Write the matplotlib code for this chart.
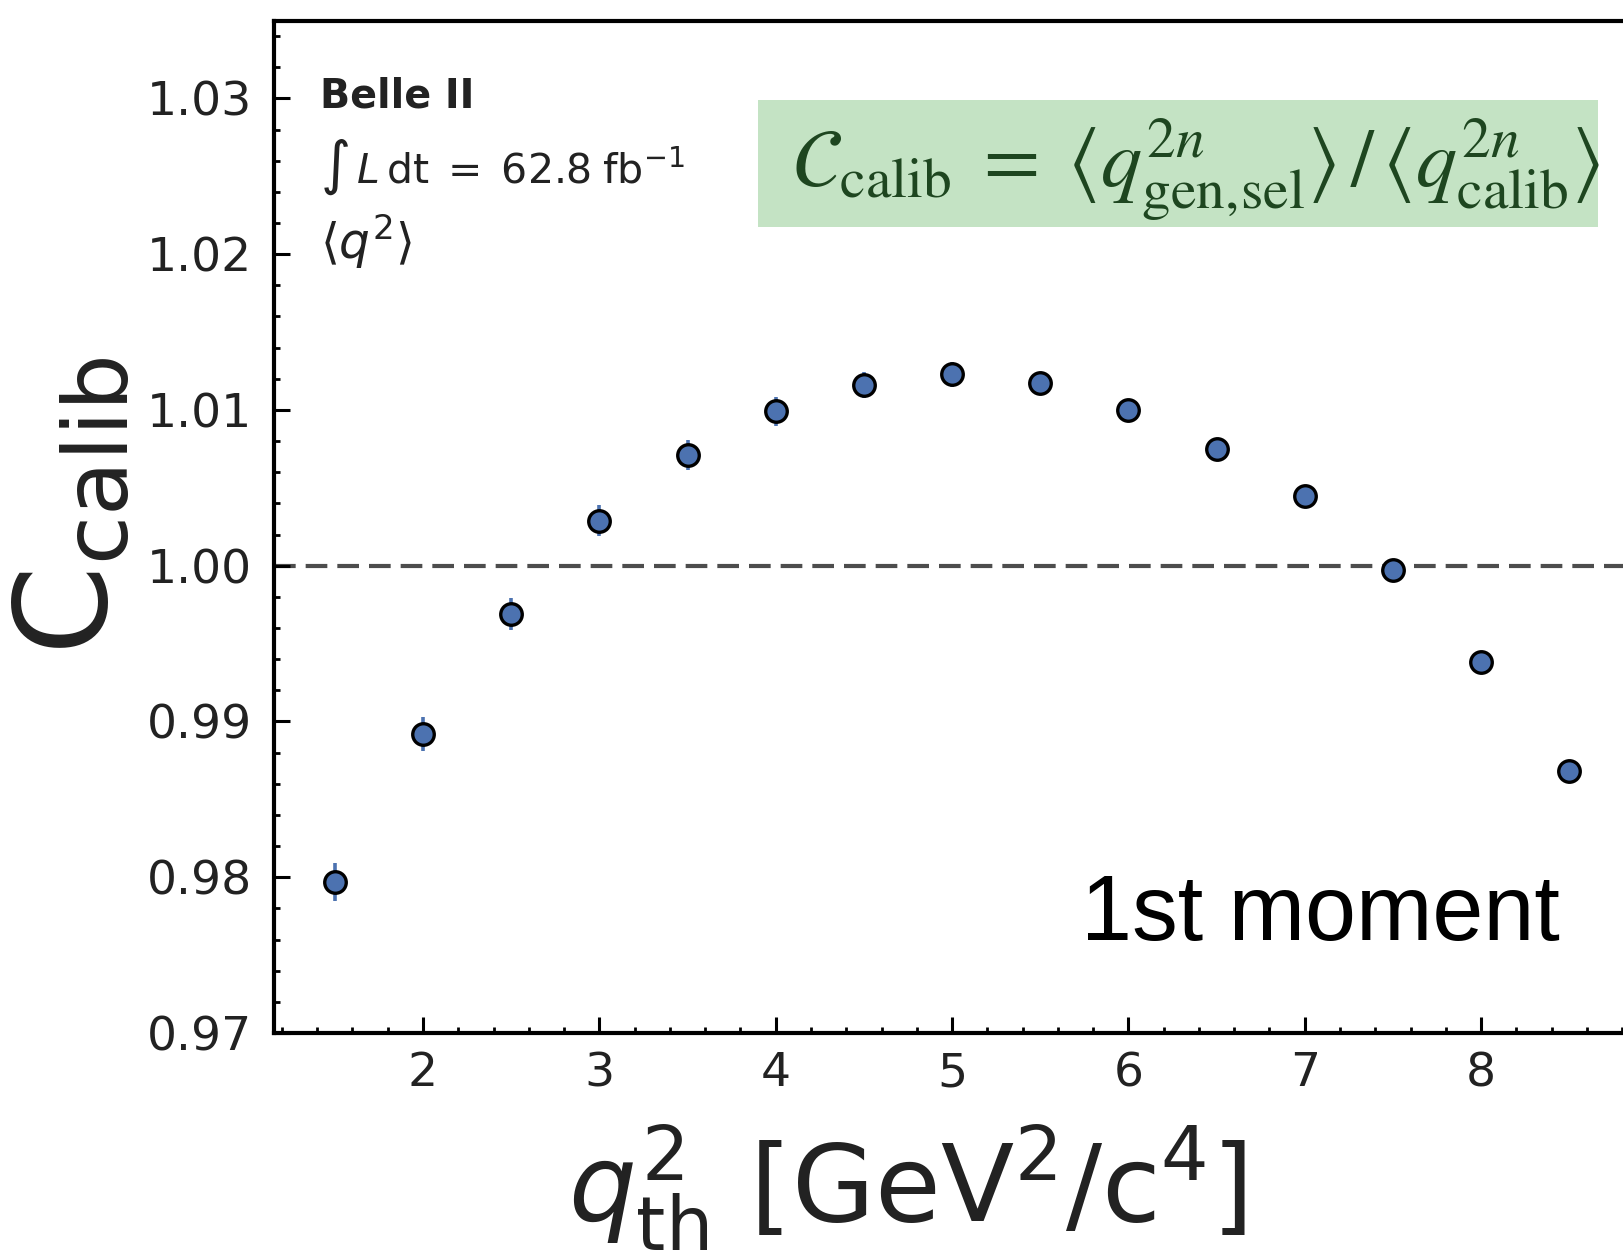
import matplotlib
matplotlib.use("Agg")
import matplotlib.pyplot as plt
from matplotlib.ticker import MultipleLocator, FixedLocator
from matplotlib.patches import Rectangle

# ---- data ----
q2_th = [1.5, 2.0, 2.5, 3.0, 3.5, 4.0, 4.5, 5.0, 5.5, 6.0, 6.5, 7.0, 7.5, 8.0, 8.5]
c_calib = [0.9797, 0.9892, 0.9969, 1.0029, 1.0071, 1.0099, 1.0116, 1.0123,
           1.0117, 1.0100, 1.0075, 1.0045, 0.9997, 0.9938, 0.9868]
c_err = [0.0012, 0.0011, 0.00105, 0.0010, 0.00095, 0.00092, 0.00085, 0.0008,
         0.00075, 0.0007, 0.00065, 0.0006, 0.0006, 0.0006, 0.0006]
x_ticks = [2, 3, 4, 5, 6, 7, 8]
y_ticks = [0.97, 0.98, 0.99, 1.00, 1.01, 1.02, 1.03]
y_ticklabels = ["0.97", "0.98", "0.99", "1.00", "1.01", "1.02", "1.03"]
ref_line = 1.0

W, H = 1623, 1254
fig = plt.figure(figsize=(W / 100, H / 100), dpi=100)
fig.patch.set_facecolor("white")
ax = fig.add_axes([274 / W, 1 - 1033 / H, (1631 - 274) / W, (1033 - 20.5) / H])

blue = "#4c72b0"
ax.errorbar(q2_th, c_calib, yerr=c_err, fmt="none", ecolor=blue, elinewidth=2.6,
            capsize=0, zorder=2)
ax.plot(q2_th, c_calib, linestyle="none", marker="o", markersize=15.5,
        markerfacecolor=blue, markeredgecolor="black", markeredgewidth=2.4, zorder=3)
ax.axhline(ref_line, color="#4d4d4d", linewidth=3.0, dashes=(5.2, 2.4), zorder=1)

ax.set_xlim(1.155, 8.85)
ax.set_ylim(0.97, 1.035)
ax.xaxis.set_major_locator(FixedLocator(x_ticks))
ax.xaxis.set_minor_locator(MultipleLocator(0.2))
ax.yaxis.set_major_locator(FixedLocator(y_ticks))
ax.set_yticklabels(y_ticklabels)
ax.yaxis.set_minor_locator(MultipleLocator(0.002))

for s in ax.spines.values():
    s.set_linewidth(3.0)
    s.set_color("black")

ax.tick_params(which="major", direction="in", length=11.5, width=2.2,
               labelsize=34, labelcolor="#222222", top=False, right=False)
ax.tick_params(which="minor", direction="in", length=4.5, width=2.0,
               top=False, right=False)
ax.tick_params(axis="y", which="major", pad=16)
ax.tick_params(axis="x", which="major", pad=13)

ax.set_ylabel(r"C$_\mathrm{calib}$", fontsize=92, color="#222222")
ax.yaxis.set_label_coords(-0.103, 0.52)
ax.set_xlabel(r"$q^2_\mathrm{th}$ [GeV$^2$/c$^4$]", fontsize=77, color="#222222")
ax.xaxis.set_label_coords(0.4665, -0.088)

# Belle II annotation
fig.text(320 / W, 1 - 107 / H, "Belle II", fontsize=28.5, fontweight="bold",
         color="#222222", va="baseline", ha="left")
fig.text(320 / W, 1 - 183 / H, r"$\int\,L\,\mathrm{dt}\;=\;62.8\;\mathrm{fb}^{-1}$",
         fontsize=29.5, color="#222222", va="baseline", ha="left")
fig.text(320 / W, 1 - 259 / H, r"$\langle q^2\rangle$",
         fontsize=35, color="#222222", va="baseline", ha="left")

# green formula box
fig.patches.append(Rectangle((758 / W, 1 - 227 / H), (1598 - 758) / W, (227 - 100) / H,
                             transform=fig.transFigure, facecolor="#c4e3c4",
                             edgecolor="none", zorder=5))
fig.text(1196 / W, 1 - 186 / H,
         r"$\mathcal{C}_\mathrm{calib}\;=\;\langle q^{2n}_\mathrm{gen,\!sel}\rangle\,/\,\langle q^{2n}_\mathrm{calib}\rangle$",
         fontsize=59, color="#1e4620", ha="center", va="baseline", zorder=6,
         math_fontfamily="stix")

fig.text(1081 / W, 1 - 940 / H, "1st moment", fontsize=66, color="black",
         family="Liberation Sans", ha="left", va="baseline")

fig.savefig("out.png", dpi=100, facecolor="white")
